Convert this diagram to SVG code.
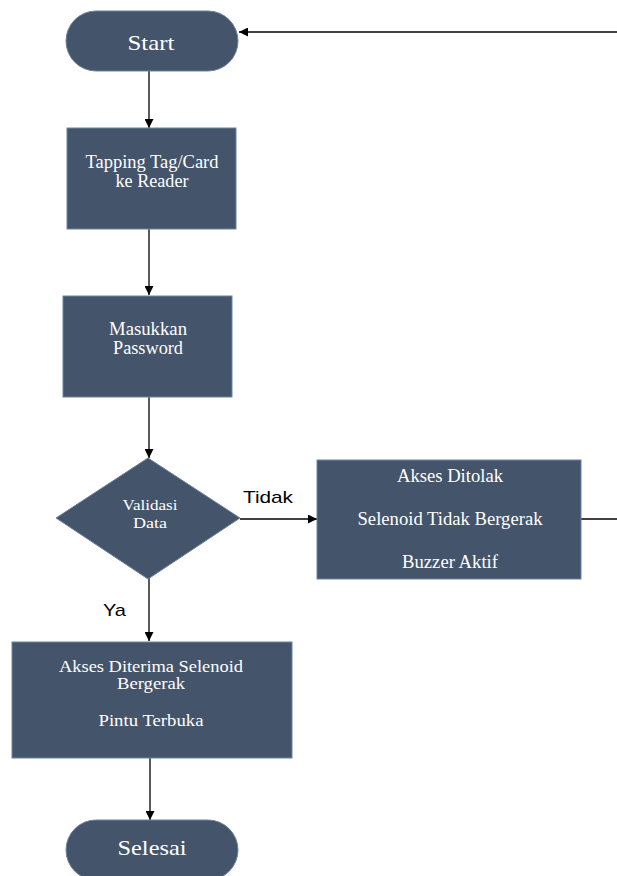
<svg xmlns="http://www.w3.org/2000/svg" width="617" height="876" viewBox="0 0 617 876">
<defs>
<marker id="ah" markerUnits="userSpaceOnUse" markerWidth="9" markerHeight="9" refX="9" refY="4.5" orient="auto">
<path d="M0,0 L9,4.5 L0,9 z" fill="#000"/>
</marker>
<style>
.shape{fill:#44546A;stroke:#6b83a0;stroke-width:1}
.t{fill:#ffffff;font-family:"Liberation Serif","Times New Roman",serif;text-anchor:middle}
.lbl{fill:#000000;font-family:"Liberation Sans",Arial,sans-serif;font-size:17px}
.c{stroke:#000;stroke-width:1.3;fill:none}
</style>
</defs>
<rect width="617" height="876" fill="#ffffff"/>
<g id="connectors">
<line class="c" x1="617" y1="32" x2="239" y2="32" marker-end="url(#ah)"/>
<line class="c" x1="149" y1="71" x2="149" y2="128" marker-end="url(#ah)"/>
<line class="c" x1="149" y1="229" x2="149" y2="295" marker-end="url(#ah)"/>
<line class="c" x1="149" y1="397" x2="149" y2="458" marker-end="url(#ah)"/>
<line class="c" x1="240" y1="519" x2="317" y2="519" marker-end="url(#ah)"/>
<line class="c" x1="581" y1="519" x2="617" y2="519"/>
<line class="c" x1="149" y1="578" x2="149" y2="641" marker-end="url(#ah)"/>
<line class="c" x1="150" y1="758" x2="150" y2="820" marker-end="url(#ah)"/>
<text class="lbl" x="243" y="503" textLength="50" lengthAdjust="spacingAndGlyphs">Tidak</text>
<text class="lbl" x="103" y="616" textLength="23" lengthAdjust="spacingAndGlyphs">Ya</text>
</g>
<g id="start">
<rect class="shape" x="66" y="11" width="172" height="60" rx="30" ry="30"/>
<text class="t" x="151" y="50" font-size="21" textLength="47" lengthAdjust="spacingAndGlyphs">Start</text>
</g>
<g id="tapping">
<rect class="shape" x="67" y="128" width="169" height="101"/>
<text class="t" x="152" y="168" font-size="18" textLength="133" lengthAdjust="spacingAndGlyphs">Tapping Tag/Card</text>
<text class="t" x="152" y="187" font-size="18" textLength="73" lengthAdjust="spacingAndGlyphs">ke Reader</text>
</g>
<g id="password">
<rect class="shape" x="63" y="296" width="169" height="101"/>
<text class="t" x="148" y="335" font-size="18" textLength="78" lengthAdjust="spacingAndGlyphs">Masukkan</text>
<text class="t" x="148" y="354" font-size="18" textLength="70" lengthAdjust="spacingAndGlyphs">Password</text>
</g>
<g id="validasi">
<polygon class="shape" points="148,458 240,518 148,579 56,518"/>
<text class="t" x="150" y="510" font-size="15" textLength="55" lengthAdjust="spacingAndGlyphs">Validasi</text>
<text class="t" x="150" y="528" font-size="15" textLength="34" lengthAdjust="spacingAndGlyphs">Data</text>
</g>
<g id="ditolak">
<rect class="shape" x="317" y="460" width="264" height="119"/>
<text class="t" x="450" y="482" font-size="18" textLength="106" lengthAdjust="spacingAndGlyphs">Akses Ditolak</text>
<text class="t" x="450" y="525" font-size="18" textLength="185" lengthAdjust="spacingAndGlyphs">Selenoid Tidak Bergerak</text>
<text class="t" x="450" y="568" font-size="18" textLength="96" lengthAdjust="spacingAndGlyphs">Buzzer Aktif</text>
</g>
<g id="diterima">
<rect class="shape" x="12" y="642" width="280" height="116"/>
<text class="t" x="151" y="672" font-size="16" textLength="184" lengthAdjust="spacingAndGlyphs">Akses Diterima Selenoid</text>
<text class="t" x="151" y="689" font-size="16" textLength="68" lengthAdjust="spacingAndGlyphs">Bergerak</text>
<text class="t" x="151" y="726" font-size="17" textLength="105" lengthAdjust="spacingAndGlyphs">Pintu Terbuka</text>
</g>
<g id="selesai">
<rect class="shape" x="66" y="820" width="172" height="60" rx="30" ry="30"/>
<text class="t" x="152" y="855" font-size="21" textLength="69" lengthAdjust="spacingAndGlyphs">Selesai</text>
</g>
</svg>
